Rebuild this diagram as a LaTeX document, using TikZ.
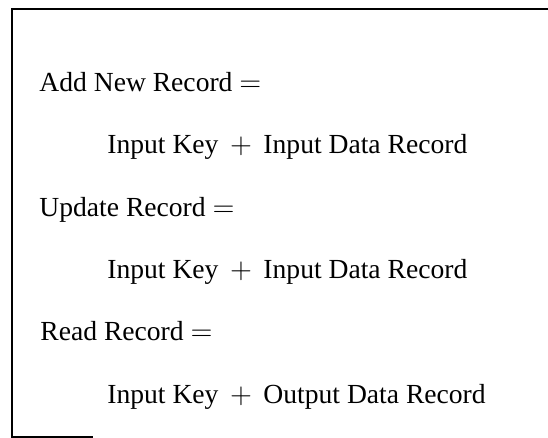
\documentclass[tikz,border=0pt]{standalone}
\usepackage{fontspec}
\setmainfont{Liberation Serif}
\usepackage{tikz}
\usetikzlibrary{positioning}

\begin{document}
\begin{tikzpicture}[
    x=0.5pt, y=-0.5pt,
    defn/.style={
        anchor=base west, inner sep=0pt,
        font=\fontsize{13.8}{16}\selectfont
    },
    rhs/.style={defn}
]
    \useasboundingbox (0,0) rectangle (548,438);

    % Frame
    \draw[line width=0.7pt] (93,437) -- (12,437) -- (12,9) -- (548,9);

    % Definitions
    \node[defn] (add)    at (39,92)  {Add New Record $=$};
    \node[rhs]  (addrhs) at (107,154) {Input Key \,$+$\, Input Data Record};
    \node[defn] (upd)    at (39,217) {Update Record $=$};
    \node[rhs]  (updrhs) at (107,279) {Input Key \,$+$\, Input Data Record};
    \node[defn] (rd)     at (40,341) {Read Record $=$};
    \node[rhs]  (rdrhs)  at (107,404) {Input Key \,$+$\, Output Data Record};
\end{tikzpicture}
\end{document}
